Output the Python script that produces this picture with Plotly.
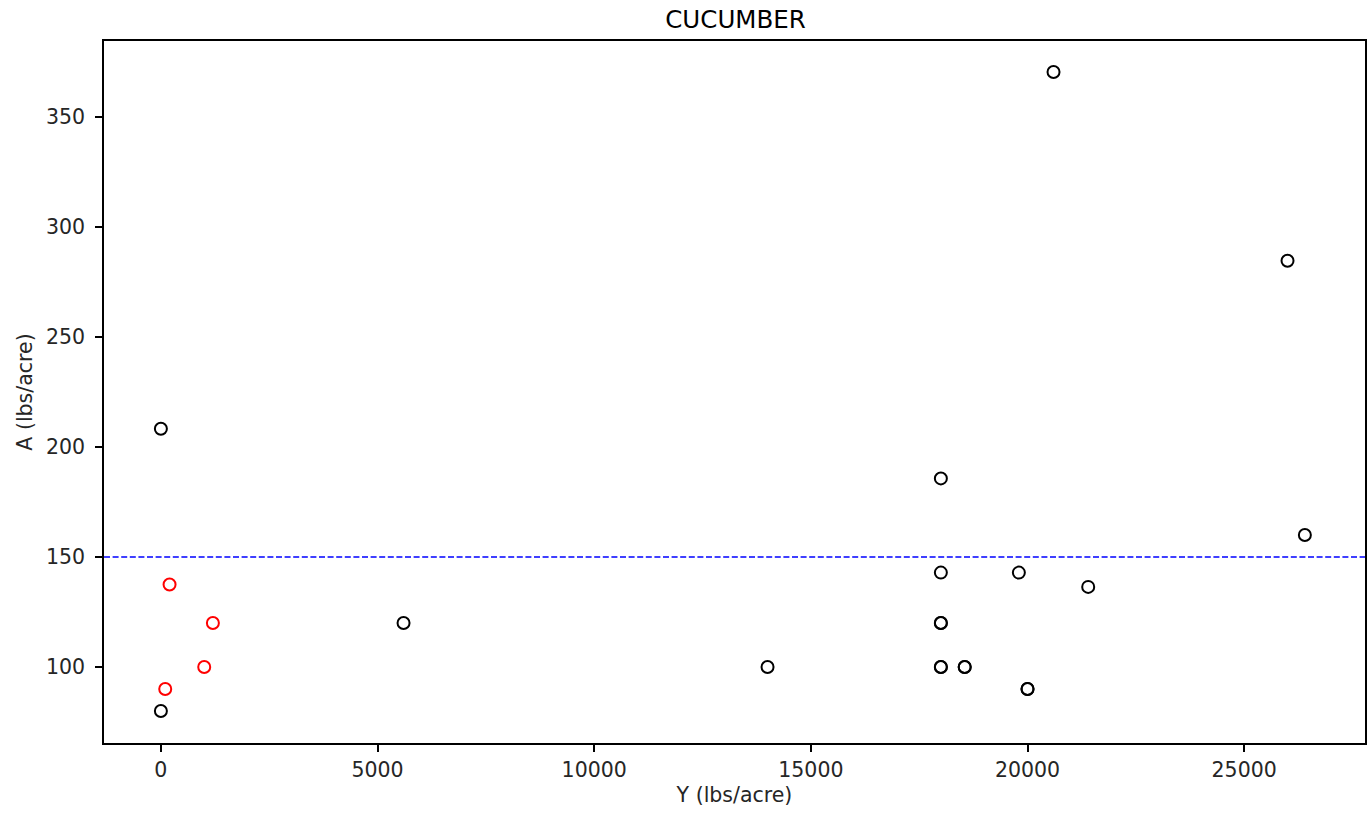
import plotly.graph_objects as go

# Black points (Y, A)
black_y = [0, 0, 5600, 14000, 18000, 18000, 18000, 18000, 18000, 18000, 18550, 18550,
           19800, 20000, 20000, 20600, 21400, 26000, 26400]
black_a = [208.3, 80, 120, 100, 185.7, 142.9, 120, 120, 100, 100, 100, 100,
           142.9, 90, 90, 370.4, 136.4, 284.6, 160]
# Red points
red_y = [200, 1200, 1000, 100]
red_a = [137.5, 120, 100, 90]

threshold = 150
title = "CUCUMBER"
x_label = "Y (lbs/acre)"
y_label = "A (lbs/acre)"
x_ticks = [0, 5000, 10000, 15000, 20000, 25000]
y_ticks = [100, 150, 200, 250, 300, 350]

font = "DejaVu Sans"
txt = "#262626"

fig = go.Figure()
fig.add_trace(go.Scatter(x=black_y, y=black_a, mode="markers",
                         marker=dict(symbol="circle-open", size=12, color="black",
                                     line=dict(width=2, color="black")),
                         showlegend=False))
fig.add_trace(go.Scatter(x=red_y, y=red_a, mode="markers",
                         marker=dict(symbol="circle-open", size=12, color="red",
                                     line=dict(width=2, color="red")),
                         showlegend=False))
fig.add_hline(y=threshold, line=dict(color="blue", width=1.6, dash="6px,2.6px"))

fig.update_layout(
    width=1372, height=814,
    paper_bgcolor="white", plot_bgcolor="white",
    margin=dict(l=104, r=5, t=41, b=71),
    title=dict(text=title, x=(104 + 1367) / 2 / 1372, xanchor="center",
               y=1 - 19 / 814, yanchor="middle",
               font=dict(family=font, size=24.5, color="black")),
    font=dict(family=font, size=20.5, color=txt),
)
fig.update_xaxes(range=[-1313, 27788], tickmode="array",
                 tickvals=x_ticks, ticktext=[str(v) for v in x_ticks],
                 showgrid=False, zeroline=False, showline=True, linecolor="black",
                 linewidth=1.6, mirror=True, ticks="outside", ticklen=7, tickwidth=1.6,
                 tickcolor="black", ticklabelstandoff=1,
                 title=dict(text=x_label, font=dict(family=font, size=20.5, color=txt),
                            standoff=6),
                 tickfont=dict(family=font, size=20.5, color=txt))
fig.update_yaxes(range=[65.45, 384.5], tickmode="array",
                 tickvals=y_ticks, ticktext=[str(v) for v in y_ticks],
                 showgrid=False, zeroline=False, showline=True, linecolor="black",
                 linewidth=1.6, mirror=True, ticks="outside", ticklen=7, tickwidth=1.6,
                 tickcolor="black", ticklabelstandoff=6,
                 title=dict(text=y_label, font=dict(family=font, size=20.5, color=txt),
                            standoff=8),
                 tickfont=dict(family=font, size=20.5, color=txt))

fig.write_html("out.html", config={"displayModeBar": False},
               post_script="document.body.style.margin='0';document.body.style.overflow='hidden';")
